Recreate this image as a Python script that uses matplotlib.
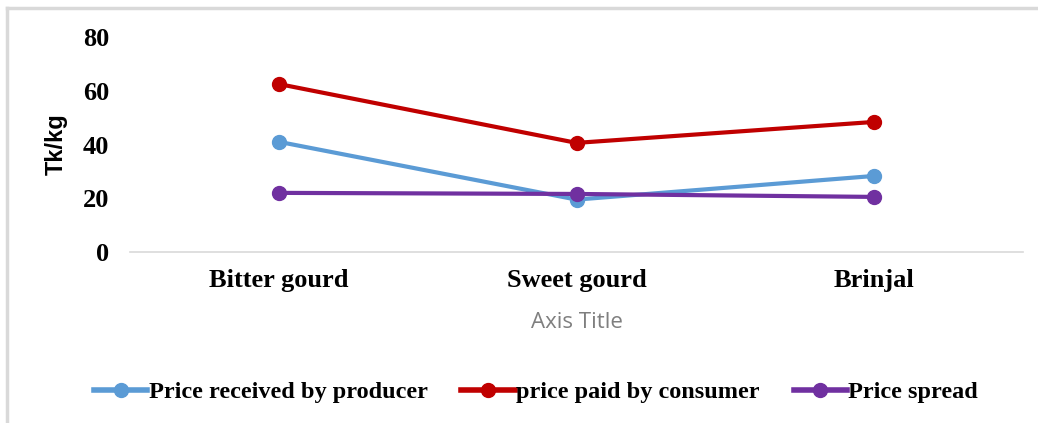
import matplotlib
matplotlib.use("Agg")
import matplotlib.pyplot as plt
from matplotlib.lines import Line2D
import numpy as np

# data
categories = ["Bitter gourd", "Sweet gourd", "Brinjal"]
producer = [41, 19.5, 28.3]
consumer = [62.5, 40.6, 48.4]
spread = [22, 21.6, 20.5]
series_names = ["Price received by producer", "price paid by consumer", "Price spread"]
colors = ["#5B9BD5", "#C00000", "#7030A0"]
yticks = [0, 20, 40, 60, 80]

serif = "Liberation Serif"

fig = plt.figure(figsize=(10.38, 4.23), dpi=100)
ax = fig.add_axes([130 / 1038, 1 - 252 / 423, (1023 - 130) / 1038, (252 - 37) / 423])

x = np.arange(len(categories))
for vals, name, c in zip([producer, consumer, spread], series_names, colors):
    ax.plot(x, vals, color=c, lw=3, marker="o", ms=10, label=name,
            solid_capstyle="round")

ax.set_xlim(-0.5, len(categories) - 0.5)
ax.set_ylim(0, 80)
ax.set_yticks(yticks)
ax.set_yticklabels([str(v) for v in yticks], fontfamily=serif, fontweight="bold", fontsize=19)
ax.set_xticks(x)
ax.set_xticklabels(categories, fontfamily=serif, fontweight="bold", fontsize=19)
ax.tick_params(length=0)
ax.tick_params(axis="y", pad=15)
ax.tick_params(axis="x", pad=12)

for s in ["top", "right", "left"]:
    ax.spines[s].set_visible(False)
ax.spines["bottom"].set_color("#D9D9D9")
ax.spines["bottom"].set_linewidth(1.2)

ax.set_ylabel("Tk/kg", fontfamily="Liberation Sans", fontweight="bold", fontsize=17, labelpad=11)
fig.text(577 / 1038, 1 - 322 / 423, "Axis Title", ha="center", va="center",
         fontfamily="Open Sans", fontsize=16, color="#7F7F7F")

handles = [Line2D([0], [0], color=c, lw=4, marker="o", ms=10) for c in colors]
fig.legend(handles, series_names, loc="center", bbox_to_anchor=(536 / 1038, 1 - 392 / 423),
           ncol=3, frameon=False, handlelength=2.2, handletextpad=0.05, columnspacing=1.4,
           prop={"family": serif, "weight": "bold", "size": 17.5})

# outer chart frame (top and left edges visible)
fig.add_artist(Line2D([7 / 1038, 1], [1 - 8 / 423, 1 - 8 / 423], color="#D9D9D9", lw=2.5,
                      transform=fig.transFigure))
fig.add_artist(Line2D([7 / 1038, 7 / 1038], [0, 1 - 8 / 423], color="#D9D9D9", lw=2.5,
                      transform=fig.transFigure))

fig.savefig("out.png", dpi=100, facecolor="white")
